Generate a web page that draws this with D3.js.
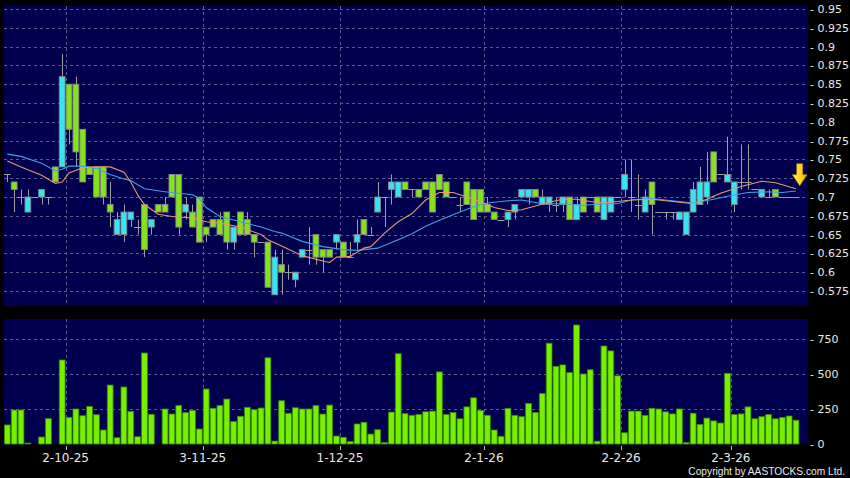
<!DOCTYPE html>
<html>
<head>
<meta charset="utf-8">
<script src="https://cdn.jsdelivr.net/npm/d3@7"></script>
<style>
  body { margin: 0; background: #000; }
  svg { display: block; }
</style>
</head>
<body>
<svg id="chart" width="850" height="478"></svg>
<script>
// ---- data (one entry per trading day, index 0..115) ----
const open  = [.73,.72,.70,.68,.70,.70,.70,.74,.74,.85,.85,.79,.74,.74,.74,.69,.65,.65,.67,.66,
               .69,.66,.69,.69,.73,.73,.68,.68,.70,.66,.67,.67,.68,.64,.68,.67,.65,.64,.64,.57,
               .61,.60,.59,.62,.63,.65,.63,.63,.64,.64,.62,.64,.67,.65,.68,.70,.71,.70,.72,.71,
               .71,.72,.72,.73,.72,.70,.69,.72,.71,.71,.69,.68,.67,.67,.68,.70,.70,.71,.69,.69,
               .69,.69,.70,.67,.70,.70,.70,.67,.68,.70,.71,.70,.69,.68,.72,.68,.68,.68,.67,.65,
               .68,.69,.70,.76,.73,.72,.69,.72,.72,.71,.70,.70,.71,.70,.70,.70];
const high  = [.73,.72,.71,.71,.70,.71,.70,.74,.89,.85,.86,.79,.74,.74,.74,.72,.68,.69,.68,.67,
               .69,.67,.69,.70,.73,.73,.70,.69,.70,.66,.67,.68,.68,.66,.68,.68,.65,.64,.64,.63,
               .63,.61,.60,.63,.66,.65,.63,.63,.65,.64,.64,.67,.67,.66,.72,.70,.73,.72,.72,.71,
               .71,.72,.72,.73,.72,.70,.70,.72,.71,.71,.70,.68,.67,.68,.69,.71,.71,.71,.71,.70,
               .70,.70,.70,.70,.70,.70,.70,.70,.70,.70,.75,.75,.73,.71,.72,.68,.68,.68,.68,.68,
               .72,.74,.76,.76,.73,.78,.72,.77,.77,.71,.71,.71,.71,.70,.70,.70];
const low   = [.72,.68,.69,.68,.70,.69,.69,.72,.74,.77,.74,.72,.73,.70,.69,.66,.65,.64,.66,.65,
               .62,.65,.68,.68,.70,.65,.67,.66,.64,.64,.66,.65,.63,.63,.65,.65,.62,.64,.58,.57,
               .57,.59,.58,.62,.61,.61,.60,.62,.63,.62,.62,.63,.65,.65,.68,.66,.69,.70,.71,.70,
               .70,.71,.68,.71,.70,.70,.68,.69,.67,.68,.68,.67,.67,.66,.67,.70,.69,.70,.69,.68,
               .68,.68,.67,.67,.68,.70,.68,.67,.68,.70,.70,.68,.67,.68,.65,.68,.67,.67,.67,.65,
               .68,.69,.69,.72,.73,.72,.68,.71,.71,.71,.70,.70,.70,.70,.70,.70];
const close = [.73,.71,.70,.70,.70,.71,.70,.72,.86,.79,.76,.72,.73,.70,.70,.68,.67,.68,.68,.66,
               .63,.67,.68,.68,.70,.66,.69,.66,.64,.65,.66,.65,.64,.66,.65,.65,.64,.64,.58,.62,
               .60,.60,.60,.63,.63,.62,.62,.62,.65,.62,.62,.65,.65,.65,.70,.70,.72,.72,.71,.71,
               .70,.71,.68,.71,.70,.70,.69,.69,.67,.68,.68,.67,.67,.68,.69,.71,.71,.70,.70,.70,
               .69,.70,.67,.69,.68,.70,.68,.70,.70,.70,.73,.70,.69,.70,.69,.68,.68,.68,.68,.68,
               .71,.72,.72,.72,.73,.73,.72,.72,.72,.71,.71,.70,.70,.70,.70,.70];
const volume = [136,243,243,7,0,50,181,0,600,190,250,202,269,209,100,421,45,407,233,52,
                650,212,0,250,214,276,224,240,107,393,255,274,321,160,198,262,245,257,616,21,
                309,219,259,250,250,274,214,278,57,48,17,143,155,71,102,10,228,645,217,205,
                210,230,235,515,210,225,180,265,330,240,205,100,55,255,205,195,290,225,360,720,
                555,565,510,850,500,530,20,700,665,487,80,235,235,205,255,250,230,215,250,10,
                220,140,185,165,150,505,210,215,265,180,195,210,180,190,200,170];

// moving averages at these day indexes
const ma10Idx = [0,2,5,7,8,9,11,13,15,17,18,19,20,22,24,27,29,31,34,37,38,40,43,46,47,48,50,52,53,55,57,
                 59,61,63,65,67,69,71,73,75,77,79,81,83,85,87,89,91,94,97,100,102,104,107,110,112,115];
const ma10    = [.748,.740,.729,.718,.720,.732,.739,.740,.740,.733,.720,.703,.690,.677,.674,.672,.667,.665,
                 .660,.650,.643,.635,.622,.615,.613,.620,.621,.632,.634,.652,.667,.678,.696,.706,.706,.700,
                 .694,.686,.682,.683,.688,.693,.697,.697,.694,.692,.694,.696,.697,.694,.691,.697,.705,
                 .714,.721,.719,.711];
const ma20Idx = [0,2,5,7,8,9,11,13,15,17,18,20,23,27,28,29,31,34,37,39,40,43,46,49,51,54,57,59,61,63,66,
                 68,70,73,75,78,81,84,87,89,91,94,97,100,103,105,108,111,113,115];
const ma20    = [.757,.754,.745,.735,.737,.741,.741,.738,.730,.724,.722,.711,.707,.703,.698,.686,.674,.667,
                 .660,.654,.652,.641,.634,.630,.629,.632,.643,.651,.661,.669,.680,.687,.692,.695,.696,
                 .691,.691,.689,.691,.691,.696,.698,.695,.692,.697,.701,.706,.707,.706,.708];

const dateLabels = ["2-10-25","3-11-25","1-12-25","2-1-26","2-2-26","2-3-26"];
const dateIdx    = [8, 28, 48, 69, 89, 105];
const priceTicks = [0.95,0.925,0.9,0.875,0.85,0.825,0.8,0.775,0.75,0.725,0.7,0.675,0.65,0.625,0.6,0.575];
const volTicks   = [0, 250, 500, 750];

// ---- layout ----
const W = 850, H = 478;
const main = {left: 4, right: 808, top: 6, bottom: 306};
const vol  = {left: 4, right: 808, top: 319, bottom: 444};

const navy = "#00004e", gridCol = "#5a5a8c", txt = "#e8e8e8";
const upCol = "#36e4f2", downCol = "#84e21e", volCol = "#77f000";
const font = "DejaVu Sans, Verdana, sans-serif";

const x  = d3.scaleLinear().domain([0, 115]).range([7.3, 796]);
const step = x(1) - x(0);
const bw = 5.8;
const y  = d3.scaleLinear().domain([0.575, 0.95]).range([291, 9]);
const yv = d3.scaleLinear().domain([0, 750]).range([444, 339]);

const svg = d3.select("#chart");
svg.append("rect").attr("width", W).attr("height", H).attr("fill", "#000");

const defs = svg.append("defs");
defs.append("clipPath").attr("id", "clipMain")
  .append("rect").attr("x", main.left).attr("y", main.top)
  .attr("width", main.right - main.left).attr("height", main.bottom - main.top);
const grad = defs.append("linearGradient").attr("id", "arrowGrad")
  .attr("x1", 0).attr("x2", 1).attr("y1", 0).attr("y2", 0);
grad.append("stop").attr("offset", "0%").attr("stop-color", "#fff06a");
grad.append("stop").attr("offset", "60%").attr("stop-color", "#ffd21a");
grad.append("stop").attr("offset", "100%").attr("stop-color", "#e8a400");

for (const p of [main, vol]) {
  svg.append("rect").attr("x", p.left).attr("y", p.top)
    .attr("width", p.right - p.left).attr("height", p.bottom - p.top).attr("fill", navy);
}

const gridX = dateIdx.map(i => x(i) + step / 2);

// horizontal grid + right axis, price panel
svg.append("g").selectAll("line").data(priceTicks).join("line")
  .attr("x1", main.left).attr("x2", main.right)
  .attr("y1", d => Math.round(y(d)) + 0.5).attr("y2", d => Math.round(y(d)) + 0.5)
  .attr("stroke", gridCol).attr("stroke-dasharray", "3,3");
svg.append("g").selectAll("text").data(priceTicks).join("text")
  .attr("x", 810).attr("y", d => y(d)).attr("dy", "0.36em")
  .attr("fill", txt).attr("font-family", font).attr("font-size", 11)
  .text(d => "- " + String(d));

// vertical grid lines, both panels
for (const p of [main, vol]) {
  svg.append("g").selectAll("line").data(gridX).join("line")
    .attr("x1", d => Math.round(d) + 0.5).attr("x2", d => Math.round(d) + 0.5)
    .attr("y1", p.top).attr("y2", p.bottom)
    .attr("stroke", gridCol).attr("stroke-dasharray", "3,3");
}

// volume grid + axis
svg.append("g").selectAll("line").data(volTicks.filter(d => d > 0)).join("line")
  .attr("x1", vol.left).attr("x2", vol.right)
  .attr("y1", d => Math.round(yv(d)) + 0.5).attr("y2", d => Math.round(yv(d)) + 0.5)
  .attr("stroke", gridCol).attr("stroke-dasharray", "3,3");
svg.append("g").selectAll("text").data(volTicks).join("text")
  .attr("x", 810).attr("y", d => yv(d)).attr("dy", "0.36em")
  .attr("fill", txt).attr("font-family", font).attr("font-size", 11)
  .text(d => "- " + d);

// date axis
svg.append("g").selectAll("line").data(gridX).join("line")
  .attr("x1", d => Math.round(d) + 0.5).attr("x2", d => Math.round(d) + 0.5)
  .attr("y1", 446).attr("y2", 450).attr("stroke", "#bbb");
svg.append("g").selectAll("text").data(dateLabels).join("text")
  .attr("x", (d, i) => gridX[i]).attr("y", 461.5)
  .attr("text-anchor", "middle").attr("fill", txt)
  .attr("font-family", font).attr("font-size", 12)
  .text(d => d);

// volume bars
svg.append("g").selectAll("rect").data(volume).join("rect")
  .attr("x", (d, i) => x(i) - bw / 2).attr("width", bw)
  .attr("y", d => yv(d)).attr("height", d => yv(0) - yv(d))
  .attr("fill", volCol).attr("stroke", "#3b8a00").attr("stroke-width", 0.8);

// candles
const days = d3.range(open.length);
const gc = svg.append("g").attr("clip-path", "url(#clipMain)");
gc.append("g").selectAll("line").data(days.filter(i => high[i] > low[i])).join("line")
  .attr("x1", i => Math.round(x(i)) + 0.5).attr("x2", i => Math.round(x(i)) + 0.5)
  .attr("y1", i => y(high[i])).attr("y2", i => y(low[i]))
  .attr("stroke", "#a0a0a0");
gc.append("g").selectAll("line").data(days.filter(i => open[i] === close[i])).join("line")
  .attr("x1", i => x(i) - step / 2).attr("x2", i => x(i) + step / 2)
  .attr("y1", i => Math.round(y(open[i])) + 0.5).attr("y2", i => Math.round(y(open[i])) + 0.5)
  .attr("stroke", "#a0a0a0");
gc.append("g").selectAll("rect").data(days.filter(i => open[i] !== close[i])).join("rect")
  .attr("x", i => x(i) - bw / 2).attr("width", bw)
  .attr("y", i => y(Math.max(open[i], close[i])))
  .attr("height", i => Math.abs(y(open[i]) - y(close[i])))
  .attr("fill", i => close[i] > open[i] ? upCol : downCol)
  .attr("stroke", "#858585").attr("stroke-width", 0.9);

// moving averages
const line = d3.line().x(d => x(d[0])).y(d => y(d[1]));
gc.append("path").datum(d3.zip(ma20Idx, ma20)).attr("d", line)
  .attr("fill", "none").attr("stroke", "#3aa2e6").attr("stroke-width", 1.1);
gc.append("path").datum(d3.zip(ma10Idx, ma10)).attr("d", line)
  .attr("fill", "none").attr("stroke", "#e59a6c").attr("stroke-width", 1.1);

// latest-price arrow
const ax = x(115) + 3.7, ay = y(ma10[ma10.length - 1]) - 3;
svg.append("path")
  .attr("d", `M${ax - 3},${ay - 22} h6 v11 h4.3 L${ax},${ay} L${ax - 7.3},${ay - 11} h4.3 Z`)
  .attr("fill", "url(#arrowGrad)").attr("stroke", "#c98a00").attr("stroke-width", 0.6);

// copyright
svg.append("text").attr("x", 845).attr("y", 474.5).attr("text-anchor", "end")
  .attr("fill", txt).attr("font-family", "Liberation Sans, Arial, sans-serif").attr("font-size", 10.2)
  .text("Copyright by AASTOCKS.com Ltd.");
</script>
</body>
</html>
